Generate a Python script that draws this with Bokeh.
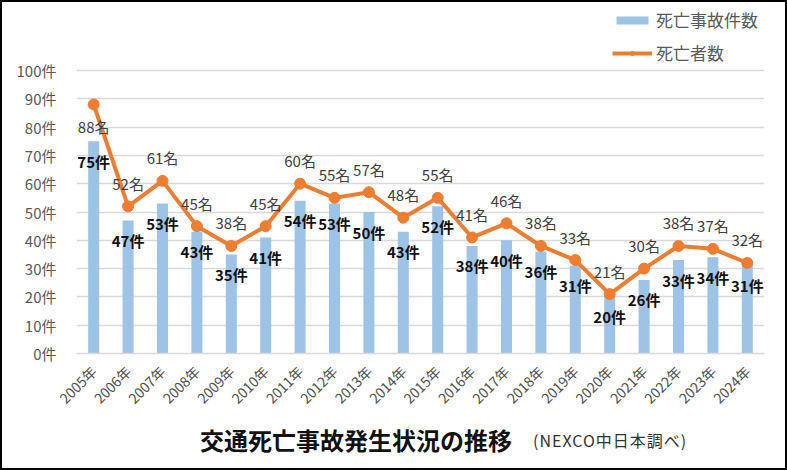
import numpy as np
from bokeh.plotting import figure
from bokeh.layouts import column
from bokeh.models import (ColumnDataSource, Range1d, FixedTicker, Legend, LegendItem,
                          Div, CustomJSTickFormatter)
from bokeh.core.properties import value
from bokeh.embed import file_html
from bokeh.resources import INLINE

years = ["2005年", "2006年", "2007年", "2008年", "2009年", "2010年", "2011年", "2012年",
         "2013年", "2014年", "2015年", "2016年", "2017年", "2018年", "2019年", "2020年",
         "2021年", "2022年", "2023年", "2024年"]
accidents = [75, 47, 53, 43, 35, 41, 54, 53, 50, 43, 52, 38, 40, 36, 31, 20, 26, 33, 34, 31]
deaths = [88, 52, 61, 45, 38, 45, 60, 55, 57, 48, 55, 41, 46, 38, 33, 21, 30, 38, 37, 32]
y_ticks = [0, 10, 20, 30, 40, 50, 60, 70, 80, 90, 100]

FONT = "Noto Sans CJK JP"
BAR_COLOR = "#9DC3E6"
LINE_COLOR = "#ED7D31"

src = ColumnDataSource(dict(
    year=years,
    acc=accidents,
    dea=deaths,
    acc_lbl=[f"{v}件" for v in accidents],
    dea_lbl=[f"{v}名" for v in deaths],
    dea_off=[22 if i == 0 else -23 for i in range(len(deaths))],
))

# frame spans from the top of the figure so the legend (inside the frame) is not clipped
FIG_H = 420
FRAME_BOTTOM = 351          # px from top of figure where the 0 line sits
PX_PER_100 = 283            # px for 0..100
y_top = 100 * FRAME_BOTTOM / PX_PER_100

p = figure(x_range=years, y_range=Range1d(0, y_top), width=783, height=FIG_H,
           output_backend="svg", toolbar_location=None,
           min_border_left=74, min_border_right=21, min_border_top=0,
           min_border_bottom=FIG_H - FRAME_BOTTOM)
p.outline_line_color = None
p.background_fill_color = "white"

bars = p.vbar(x="year", top="acc", width=0.32, source=src, fill_color=BAR_COLOR, line_color=None)
line = p.line(x="year", y="dea", source=src, line_color=LINE_COLOR, line_width=4)
pts = p.scatter(x="year", y="dea", source=src, size=11, fill_color=LINE_COLOR, line_color=LINE_COLOR)

p.text(x="year", y="acc", text="acc_lbl", source=src, y_offset=20,
       text_align="center", text_baseline="middle", text_font=value(FONT),
       text_font_size="15px", text_font_style="bold", text_color="#111111")
p.text(x="year", y="dea", text="dea_lbl", source=src, y_offset="dea_off",
       text_align="center", text_baseline="middle", text_font=value(FONT),
       text_font_size="15px", text_color="#404040")

# axes
p.yaxis.ticker = FixedTicker(ticks=y_ticks)
p.yaxis.formatter = CustomJSTickFormatter(code="return tick + '件';")
p.yaxis.axis_line_color = None
p.yaxis.major_tick_line_color = None
p.yaxis.minor_tick_line_color = None
p.yaxis.major_label_standoff = 14
p.yaxis.major_label_text_font = FONT
p.yaxis.major_label_text_font_size = "15px"
p.yaxis.major_label_text_color = "#595959"

p.xaxis.axis_line_color = "#d9d9d9"
p.xaxis.axis_line_width = 1.5
p.xaxis.major_tick_line_color = None
p.xaxis.minor_tick_line_color = None
p.xaxis.major_label_orientation = np.pi / 4
p.xaxis.major_label_standoff = 9
p.xaxis.major_label_text_font = FONT
p.xaxis.major_label_text_font_size = "14px"
p.xaxis.major_label_text_color = "#505050"

p.xgrid.grid_line_color = None
p.ygrid.grid_line_color = "#d9d9d9"
p.ygrid.grid_line_width = 1.5

legend = Legend(items=[LegendItem(label="死亡事故件数", renderers=[bars]),
                       LegendItem(label="死亡者数", renderers=[line, pts])],
                location=(536, 288), orientation="vertical",
                glyph_width=40, glyph_height=10, label_height=20, spacing=8,
                padding=0, margin=0, border_line_color=None, background_fill_alpha=0,
                label_text_font=FONT, label_text_font_size="17px",
                label_text_color="#595959", label_standoff=4)
p.add_layout(legend, "center")

title = Div(
    text=(
        '<div style="position:relative;width:783px;height:46px;">'
        f'<span style="position:absolute;left:198px;top:2px;font-family:\'{FONT}\';'
        'font-weight:bold;font-size:24px;line-height:32px;color:#111111;">'
        '交通死亡事故発生状況の推移</span>'
        f'<span style="position:absolute;left:531px;top:7px;font-family:\'{FONT}\';'
        'font-size:16px;letter-spacing:1px;line-height:22px;color:#333333;">(NEXCO中日本調べ)</span>'
        '</div>'
    ),
    width=783, height=46, margin=0,
)

layout = column(p, title, spacing=0, styles={"border": "2px solid black", "background": "white"})

open("out.html", "w").write(file_html(layout, INLINE))
